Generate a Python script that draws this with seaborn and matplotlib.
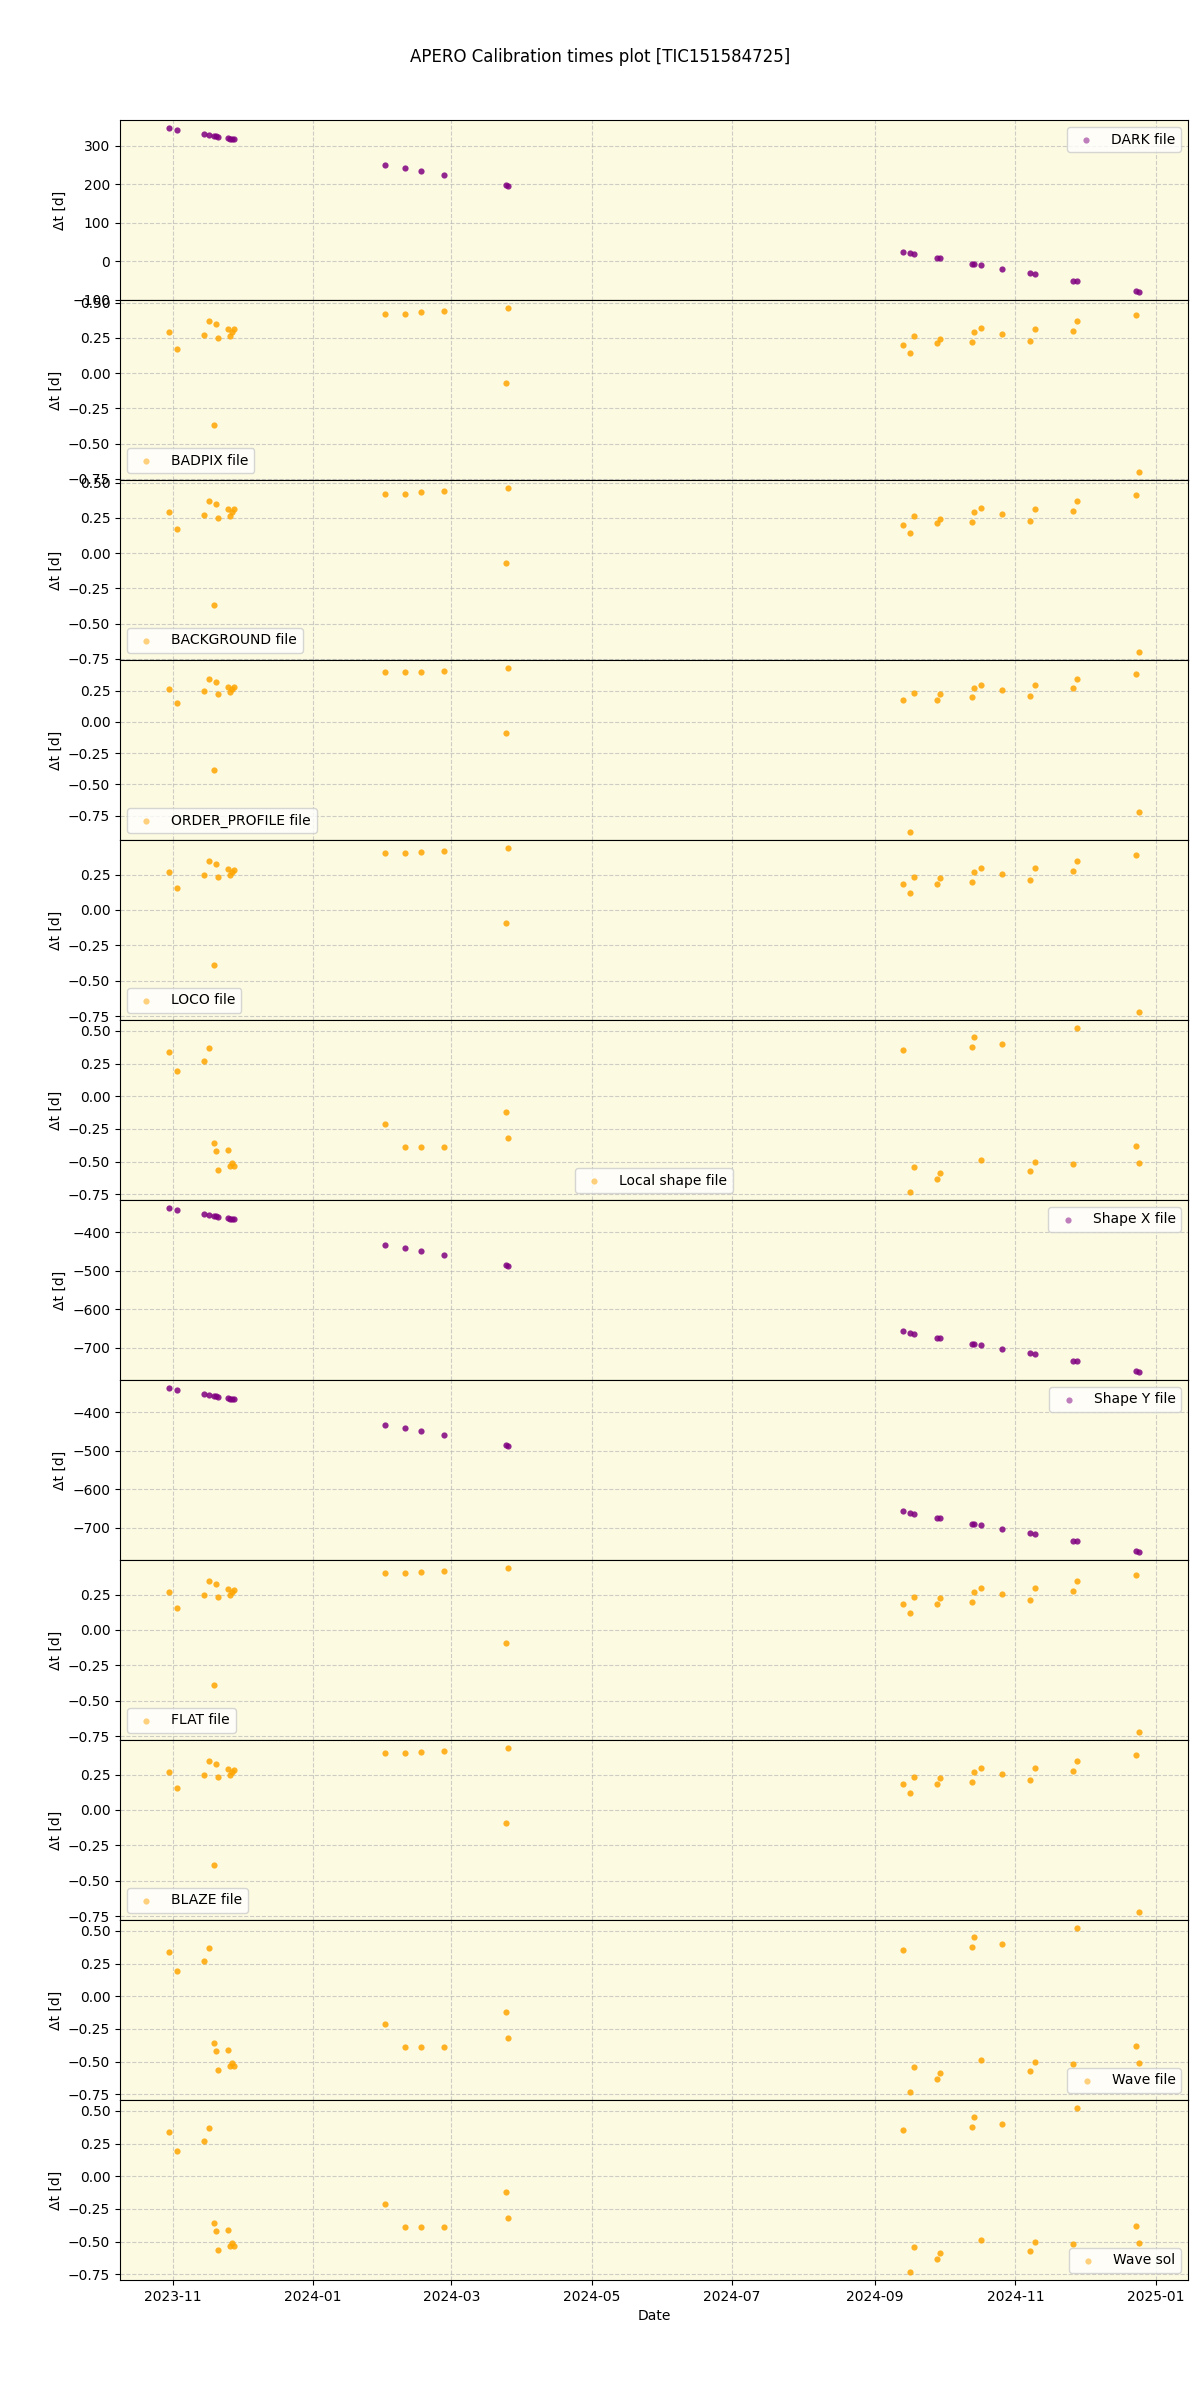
import matplotlib
matplotlib.use("Agg")
import matplotlib.pyplot as plt
import seaborn as sns
import pandas as pd

# ---- data ----
dates = [
    "2023-10-30 04:00", "2023-11-02 19:00", "2023-11-14 17:00", "2023-11-16 19:00",
    "2023-11-19 00:00", "2023-11-19 22:00", "2023-11-20 19:00", "2023-11-24 19:00",
    "2023-11-26 00:00", "2023-11-26 22:00", "2023-11-27 19:00", "2024-02-01 02:00",
    "2024-02-09 17:00", "2024-02-16 17:00", "2024-02-26 19:00", "2024-03-24 14:00",
    "2024-03-25 19:00",
    "2024-09-13 07:00", "2024-09-16 10:00", "2024-09-17 22:00", "2024-09-28 00:00",
    "2024-09-29 05:00", "2024-10-13 05:00", "2024-10-14 05:00", "2024-10-17 05:00",
    "2024-10-26 02:00", "2024-11-07 07:00", "2024-11-09 10:00", "2024-11-26 05:00",
    "2024-11-28 00:00", "2024-12-23 07:00", "2024-12-24 22:00",
]

dark = [345, 340, 329, 327, 325, 324, 321, 319, 317, 317, 316, 249, 241, 233, 223, 197, 194,
        23, 21, 18, 8, 8, -8, -8, -10, -21, -31, -34, -52, -52, -78, -80]

badpix = [0.29, 0.17, 0.27, 0.37, -0.365, 0.35, 0.25, 0.31, 0.265, 0.29, 0.31,
          0.42, 0.42, 0.43, 0.44, -0.07, 0.46,
          0.20, 0.14, 0.26, 0.21, 0.24, 0.22, 0.29, 0.32, 0.28, 0.23, 0.315, 0.30, 0.37, 0.41, -0.70]

background = [0.29, 0.17, 0.27, 0.37, -0.365, 0.35, 0.25, 0.31, 0.265, 0.29, 0.31,
              0.42, 0.42, 0.43, 0.44, -0.07, 0.46,
              0.20, 0.14, 0.26, 0.21, 0.24, 0.22, 0.29, 0.32, 0.28, 0.23, 0.315, 0.30, 0.37, 0.41, -0.70]

order_profile = [0.266, 0.148, 0.245, 0.34, -0.385, 0.32, 0.226, 0.28, 0.24, 0.266, 0.28,
                 0.40, 0.40, 0.40, 0.41, -0.09, 0.43,
                 0.177, -0.88, 0.228, 0.172, 0.22, 0.20, 0.27, 0.296, 0.253, 0.204, 0.296,
                 0.27, 0.34, 0.387, -0.72]

loco = [0.27, 0.152, 0.249, 0.348, -0.389, 0.327, 0.23, 0.289, 0.244, 0.268, 0.284,
        0.40, 0.40, 0.41, 0.415, -0.09, 0.436,
        0.18, 0.118, 0.235, 0.18, 0.223, 0.20, 0.27, 0.296, 0.254, 0.209, 0.294,
        0.277, 0.348, 0.39, -0.72]

local_shape = [0.335, 0.19, 0.27, 0.37, -0.36, -0.42, -0.56, -0.41, -0.53, -0.51, -0.53,
               -0.21, -0.39, -0.39, -0.39, -0.12, -0.32,
               0.35, -0.73, -0.54, -0.63, -0.585, 0.38, 0.45, -0.49, 0.40, -0.57, -0.50,
               -0.52, 0.52, -0.38, -0.51]

shape_x = [-338, -343, -353, -356, -358, -359, -361, -364, -366, -366, -366,
           -434, -441, -449, -460, -486, -488,
           -658, -662, -664, -675, -675, -690, -690, -693, -703, -714, -716,
           -734, -734, -760, -763]

shape_y = list(shape_x)
flat = list(loco)
blaze = list(loco)
wave_file = list(local_shape)
wave_sol = list(local_shape)

panels = [
    ("DARK file", dark, "purple", "upper right"),
    ("BADPIX file", badpix, "orange", "lower left"),
    ("BACKGROUND file", background, "orange", "lower left"),
    ("ORDER_PROFILE file", order_profile, "orange", "lower left"),
    ("LOCO file", loco, "orange", "lower left"),
    ("Local shape file", local_shape, "orange", "lower center"),
    ("Shape X file", shape_x, "purple", "upper right"),
    ("Shape Y file", shape_y, "purple", "upper right"),
    ("FLAT file", flat, "orange", "lower left"),
    ("BLAZE file", blaze, "orange", "lower left"),
    ("Wave file", wave_file, "orange", "lower right"),
    ("Wave sol", wave_sol, "orange", "lower right"),
]

# ---- plot ----
x = pd.to_datetime(dates)
fig, axes = plt.subplots(len(panels), 1, figsize=(12, 24), dpi=100, sharex=True)
fig.subplots_adjust(left=0.1, right=0.99, top=0.95, bottom=0.05, hspace=0)

for ax, (label, vals, col, loc) in zip(axes, panels):
    ax.set_facecolor("#fcfae1")
    sns.scatterplot(x=x, y=vals, ax=ax, color=col, s=20, linewidth=0, alpha=0.85,
                    label=label, zorder=3)
    ax.grid(True, linestyle="--", color="#b0b0b0", alpha=0.6, linewidth=0.8)
    ax.set_axisbelow(True)
    ax.set_ylabel("Δt [d]")
    ax.set_xlabel("")
    leg = ax.legend(loc=loc)
    for h in leg.legend_handles:
        h.set_alpha(0.5)

axes[-1].set_xlabel("Date")
fig.suptitle("APERO Calibration times plot [TIC151584725]")
fig.savefig("out.png", dpi=100)
